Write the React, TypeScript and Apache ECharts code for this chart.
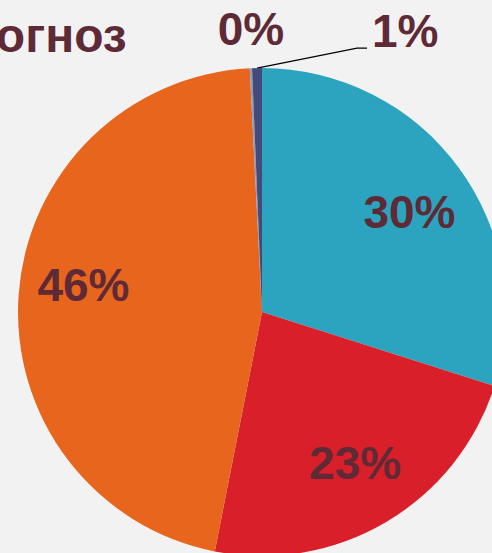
import React, { useEffect, useRef } from "react";
import * as echarts from "echarts";

const categories = ["Категория 1", "Категория 2", "Категория 3", "Категория 4", "Категория 5"];
const values = [29.9, 23.2, 46.1, 0.15, 0.65];
const colors = ["#2ca3bf", "#d91f2a", "#e8651e", "#8d9cb8", "#444a7a"];
const titleText = "Прогноз";

const TEXT = "#5e2a36";
const FONT = "'Liberation Sans', Arial, sans-serif";
const labelOffsets = [[3, 6], [2, -3], [0, -14]];

export default function App() {
  const ref = useRef<HTMLDivElement>(null);
  useEffect(() => {
    const chart = echarts.init(ref.current!, null, { renderer: "svg" });
    const data = categories.map((name, i) => ({
      name,
      value: values[i],
      itemStyle: { color: colors[i] },
    }));
    const outerData = data.map((d, i) => ({
      ...d,
      label: { show: i >= 3 },
      labelLine: {
        show: i >= 3,
        lineStyle: { color: "#000", width: 1.2, opacity: i === 4 ? 1 : 0 },
      },
    }));
    const ghostData = data.map((d, i) => ({
      name: d.name,
      value: d.value,
      itemStyle: { color: "rgba(0,0,0,0)" },
      label: { show: i < 3, offset: labelOffsets[i] || [0, 0] },
    }));
    const fmt = (p: any) => Math.round(p.percent) + "%";
    chart.setOption({
      animation: false,
      backgroundColor: "#f2f2f2",
      title: {
        text: titleText,
        left: -73,
        top: 6,
        textStyle: { fontSize: 48, fontWeight: "bold", color: TEXT, fontFamily: FONT },
      },
      series: [
        {
          type: "pie",
          center: [262, 312],
          radius: [0, 244],
          startAngle: 90,
          clockwise: true,
          silent: true,
          avoidLabelOverlap: false,
          data: outerData,
          label: {
            position: "outside",
            formatter: fmt,
            fontSize: 46,
            fontWeight: "bold",
            color: TEXT,
            fontFamily: FONT,
          },
          labelLine: { length: 20, length2: 10 },
          labelLayout: (params: any) => {
            const pts = params.labelLinePoints;
            const r = params.rect;
            const p0 = pts ? pts[0] : [r.x + r.width / 2, r.y];
            if (params.dataIndex === 4) {
              return {
                x: p0[0] + 115,
                y: p0[1] - 37,
                align: "left",
                verticalAlign: "middle",
                labelLinePoints: [
                  [p0[0], p0[1]],
                  [p0[0] + 100, p0[1] - 20],
                  [p0[0] + 110, p0[1] - 20],
                ],
              };
            }
            return {
              x: p0[0],
              y: p0[1] - 39,
              align: "center",
              verticalAlign: "middle",
              labelLinePoints: [
                [p0[0], p0[1]],
                [p0[0], p0[1]],
                [p0[0], p0[1]],
              ],
            };
          },
        },
        {
          type: "pie",
          center: [262, 312],
          radius: [108, 244],
          startAngle: 90,
          clockwise: true,
          silent: true,
          data: ghostData,
          label: {
            position: "inside",
            formatter: fmt,
            fontSize: 46,
            fontWeight: "bold",
            color: TEXT,
            fontFamily: FONT,
          },
          labelLine: { show: false },
        },
      ],
    });
    return () => chart.dispose();
  }, []);
  return (
    <div
      ref={ref}
      style={{ position: "fixed", left: 0, top: 0, width: 492, height: 553 }}
    />
  );
}
